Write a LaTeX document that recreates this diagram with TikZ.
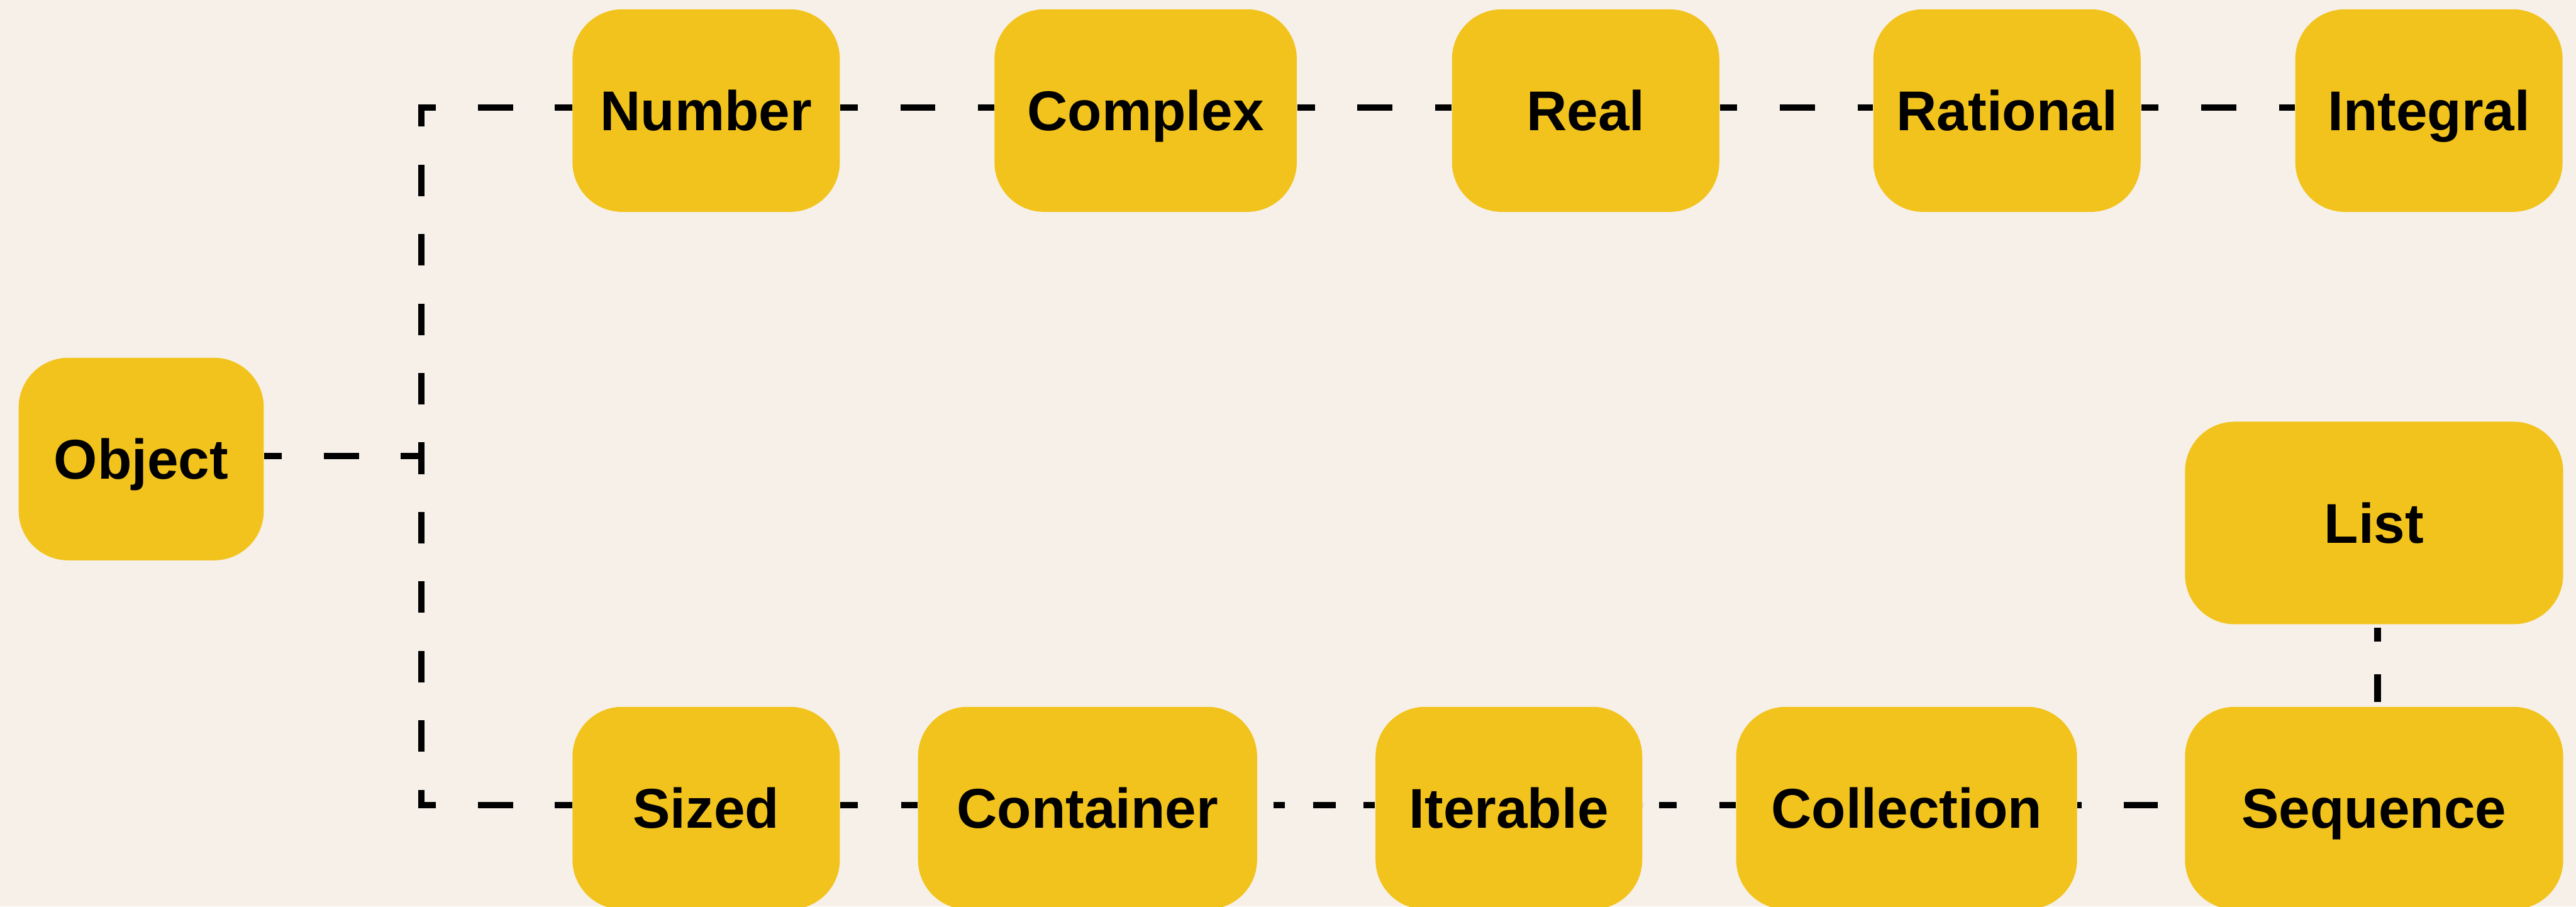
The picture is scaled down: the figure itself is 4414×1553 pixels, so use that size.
\documentclass[tikz,border=0pt]{standalone}
\usepackage{fontspec}
\setmainfont{Liberation Sans}
\definecolor{bgc}{HTML}{F6F0E9}
\definecolor{boxc}{HTML}{F2C31C}
\begin{document}
\begin{tikzpicture}[x=0.25pt,y=-0.25pt,
  box/.style={fill=boxc, draw=none, rounded corners=21.25pt, minimum height=86.75pt,
    inner sep=0pt, text height=17.2pt, text depth=0pt,
    font=\fontsize{24}{28}\selectfont\bfseries},
  conn/.style={draw=black, line width=2.75pt},
  std/.style={conn, dash pattern=on 15pt off 18.25pt, dash phase=7.5pt}]
\fill[bgc] (0,0) rectangle (4414,1553);
\useasboundingbox (0,0) rectangle (4414,1553);
% nodes
\node[box, minimum width=105pt]   (obj)  at (242,786.5)  {Object};
\node[box, minimum width=114.5pt] (num)  at (1210,189.5) {Number};
\node[box, minimum width=129.5pt] (cplx) at (1963,189.5) {Complex};
\node[box, minimum width=114.5pt] (real) at (2717,189.5) {Real};
\node[box, minimum width=114.5pt] (rat)  at (3439,189.5) {Rational};
\node[box, minimum width=114.5pt] (intg) at (4162,189.5) {Integral};
\node[box, minimum width=162pt]   (list) at (4068,896)   {List};
\node[box, minimum width=114.5pt] (siz)  at (1210,1384.5) {Sized};
\node[box, minimum width=145.25pt] (cont) at (1863.5,1384.5) {Container};
\node[box, minimum width=114.25pt] (iter) at (2585.5,1384.5) {Iterable};
\node[box, minimum width=146pt]   (coll) at (3267,1384.5) {Collection};
\node[box, minimum width=162pt]   (seq)  at (4068,1384.5) {Sequence};
% junction and corners
\coordinate (J)  at (722,781);
\coordinate (JT) at (722,179);
\coordinate (JB) at (722,1384.5);
\coordinate (CT) at (717,184);
\coordinate (CB) at (717,1379);
% connectors
\draw[conn, dash pattern=on 15pt off 18pt, dash phase=7.5pt] ([yshift=1.375pt]obj.east) -- (J);
\draw[conn, dash pattern=on 13.5pt off 16.25pt, dash phase=4pt] (JT) -- (J) -- (JB);
\draw[conn, dash pattern=on 15pt off 18pt, dash phase=7.5pt] (CT) -- ([yshift=1.375pt]num.west);
\draw[conn, dash pattern=on 15pt off 18pt, dash phase=7.5pt] (CB) -- ([yshift=1.375pt]siz.west);
\draw[std] ([yshift=1.375pt]num.east) -- ([yshift=1.375pt]cplx.west);
\draw[std] ([yshift=1.375pt]cplx.east) -- ([yshift=1.375pt]real.west);
\draw[std] ([yshift=1.375pt]real.east) -- ([yshift=1.375pt]rat.west);
\draw[std] ([yshift=1.375pt]rat.east) -- ([yshift=1.375pt]intg.west);
\draw[conn, dash pattern=on 7.5pt off 18.5pt, dash phase=0pt] ([yshift=1.375pt]siz.east) -- ([yshift=1.375pt]cont.west);
\draw[conn, dash pattern=on 5pt off 12pt on 9.75pt off 12pt on 5pt off 6.75pt, dash phase=43.75pt] ([yshift=1.375pt]cont.east) -- ([yshift=1.375pt]iter.west);
\draw[conn, dash pattern=on 7.5pt off 18.25pt on 7.5pt off 7pt, dash phase=33.25pt] ([yshift=1.375pt]iter.east) -- ([yshift=1.375pt]coll.west);
\draw[conn, dash pattern=on 1.75pt off 18pt on 14.75pt off 11.75pt, dash phase=0pt] ([yshift=1.375pt]coll.east) -- ([yshift=1.375pt]seq.west);
\draw[conn, dash pattern=on 6pt off 14pt on 11.75pt off 3.75pt, dash phase=34.25pt] ([xshift=1.5pt]list.south) -- ([xshift=1.5pt]seq.north);
\end{tikzpicture}
\end{document}
